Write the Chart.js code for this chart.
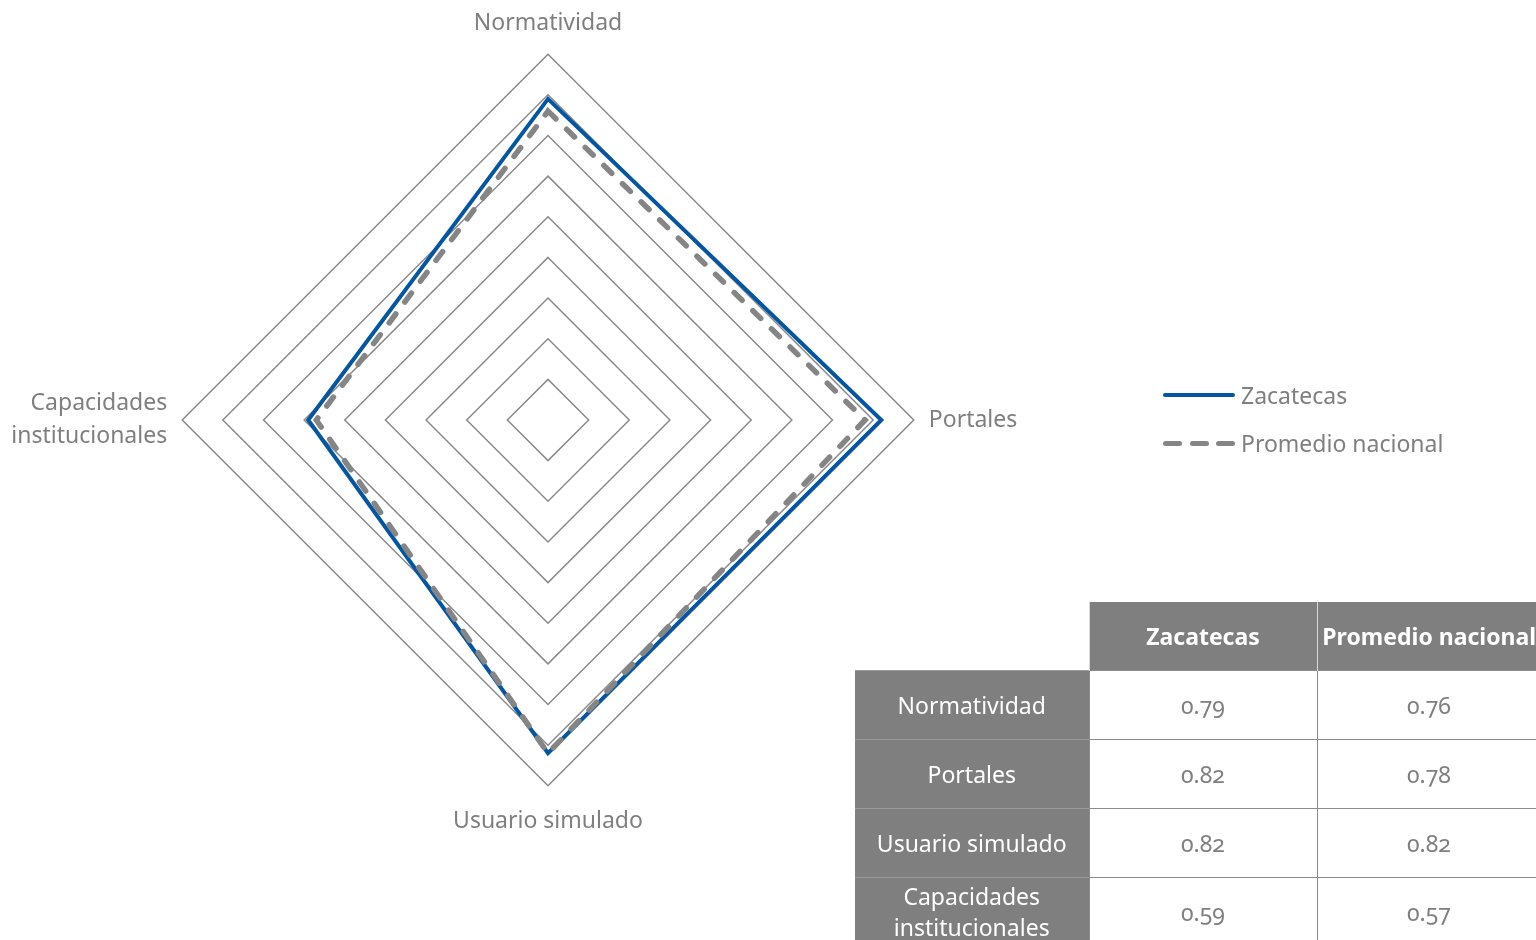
<!DOCTYPE html>
<html lang="es">
<head>
<meta charset="utf-8">
<script src="https://cdn.jsdelivr.net/npm/chart.js@4/dist/chart.umd.min.js"></script>
<style>
    html, body {
        margin: 0;
        padding: 0;
        width: 1536px;
        height: 940px;
        overflow: hidden;
        background: #ffffff;
        font-family: 'Noto Sans', sans-serif;
    }
    .radar {
        position: absolute;
        left: -70px;
        top: 5px;
        width: 1236px;
        height: 836px;
    }
    .leyenda {
        position: absolute;
        left: 1163px;
        top: 371px;
        color: #7f7f7f;
        font-size: 23px;
    }
    .leyenda .item {
        display: flex;
        align-items: center;
        height: 48px;
    }
    .leyenda .muestra {
        display: flex;
        justify-content: space-between;
        width: 72px;
        margin-right: 6px;
    }
    .leyenda .muestra span {
        display: block;
        border-radius: 3px;
    }
    table.tabla {
        position: absolute;
        left: 855px;
        top: 602px;
        width: 686px;
        border-collapse: collapse;
        font-size: 23px;
        table-layout: fixed;
    }
    table.tabla td, table.tabla th {
        height: 68px;
        padding: 0;
        text-align: center;
        line-height: 31px;
    }
    table.tabla th {
        background: #7f7f7f;
        color: #ffffff;
        font-weight: bold;
        border-left: 1px solid #d9d9d9;
        white-space: nowrap;
    }
    table.tabla th.vacio {
        background: #ffffff;
        border: none;
    }
    table.tabla td.nombre {
        background: #7f7f7f;
        color: #ffffff;
        border-top: 1px solid #9a9a9a;
    }
    table.tabla td.valor {
        color: #7f7f7f;
        border: 1.5px solid #8c8c8c;
        font-feature-settings: "onum";
    }
</style>
</head>
<body>
<div class="radar"><canvas id="graficoRadar"></canvas></div>
<div class="leyenda" id="leyenda"></div>
<table class="tabla" id="tabla"></table>

<script>
    const categorias = ['Normatividad', 'Portales', 'Usuario simulado', ['Capacidades', 'institucionales']];
    const nombresSeries = ['Zacatecas', 'Promedio nacional'];
    const valoresZacatecas = [0.79, 0.82, 0.82, 0.59];
    const valoresPromedio = [0.76, 0.78, 0.82, 0.57];

    const azul = '#0456a2';
    const gris = '#858585';

    // separación de cada etiqueta respecto al último anillo
    const separacionEtiquetas = [14.9, 15, 20, 15];

    const ctx = document.getElementById('graficoRadar').getContext('2d');
    new Chart(ctx, {
        type: 'radar',
        data: {
            labels: categorias,
            datasets: [
                {
                    label: nombresSeries[0],
                    data: valoresZacatecas,
                    borderColor: azul,
                    borderWidth: 4,
                    fill: false,
                    pointRadius: 0,
                    pointHoverRadius: 0,
                    order: 1
                },
                {
                    label: nombresSeries[1],
                    data: valoresPromedio,
                    borderColor: gris,
                    borderWidth: 5.5,
                    borderDash: [11, 15],
                    borderCapStyle: 'round',
                    fill: false,
                    pointRadius: 0,
                    pointHoverRadius: 0,
                    order: 0
                }
            ]
        },
        options: {
            responsive: true,
            maintainAspectRatio: false,
            animation: false,
            plugins: {
                legend: {display: false},
                tooltip: {enabled: false}
            },
            scales: {
                r: {
                    min: 0,
                    max: 0.9,
                    ticks: {
                        display: false,
                        stepSize: 0.1
                    },
                    angleLines: {display: false},
                    grid: {
                        color: '#8a8a8a',
                        lineWidth: 1.5
                    },
                    pointLabels: {
                        color: '#7f7f7f',
                        padding: (c) => separacionEtiquetas[c.index],
                        font: {
                            family: 'Noto Sans',
                            size: 23,
                            lineHeight: 1.4
                        }
                    }
                }
            }
        }
    });

    // Leyenda
    const leyenda = document.getElementById('leyenda');
    nombresSeries.forEach((nombre, i) => {
        const item = document.createElement('div');
        item.className = 'item';
        const muestra = document.createElement('div');
        muestra.className = 'muestra';
        if (i === 0) {
            const s = document.createElement('span');
            s.style.width = '72px';
            s.style.height = '4px';
            s.style.background = azul;
            muestra.appendChild(s);
        } else {
            for (let k = 0; k < 3; k++) {
                const s = document.createElement('span');
                s.style.width = '19px';
                s.style.height = '5px';
                s.style.background = gris;
                muestra.appendChild(s);
            }
        }
        const texto = document.createElement('span');
        texto.textContent = nombre;
        item.appendChild(muestra);
        item.appendChild(texto);
        leyenda.appendChild(item);
    });

    // Tabla de valores
    const tabla = document.getElementById('tabla');
    let html = '<colgroup><col style="width:234px"><col style="width:228px"><col style="width:224px"></colgroup>';
    html += '<tr><th class="vacio"></th>';
    nombresSeries.forEach(n => { html += '<th>' + n + '</th>'; });
    html += '</tr>';
    for (let i = 0; i < categorias.length; i++) {
        const nombre = Array.isArray(categorias[i]) ? categorias[i].join('<br>') : categorias[i];
        html += '<tr><td class="nombre">' + nombre + '</td>';
        html += '<td class="valor">' + valoresZacatecas[i].toFixed(2) + '</td>';
        html += '<td class="valor">' + valoresPromedio[i].toFixed(2) + '</td></tr>';
    }
    tabla.innerHTML = html;
</script>
</body>
</html>
